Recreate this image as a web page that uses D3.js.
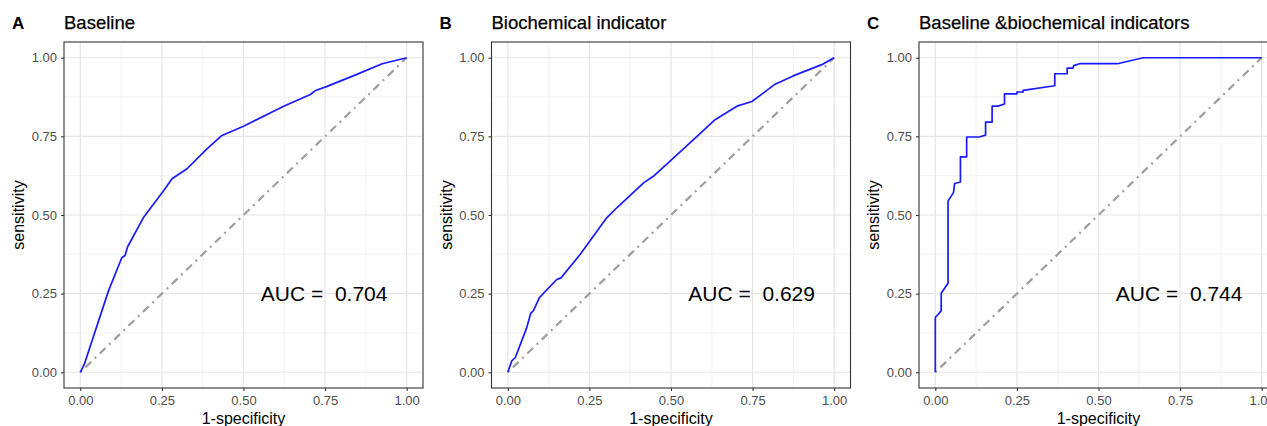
<!DOCTYPE html>
<html>
<head>
<meta charset="utf-8">
<script src="https://cdn.jsdelivr.net/npm/d3@7"></script>
<style>
  body { margin: 0; background: #fff; }
  text { font-family: "Liberation Sans", Arial, sans-serif; }
</style>
</head>
<body>
<div id="chart"></div>
<script>
const width = 1267;
const height = 426;

// panel letters, titles and AUC labels
const letters = ["A", "B", "C"];
const titles = ["Baseline", "Biochemical indicator", "Baseline &biochemical indicators"];
const aucLabels = ["0.704", "0.629", "0.744"];
const ticks = [0, 0.25, 0.5, 0.75, 1];
const minorTicks = [0.125, 0.375, 0.625, 0.875];

// ROC curves (1-specificity, sensitivity)
const fprA = [0, 0.012, 0.086, 0.127, 0.137, 0.145, 0.193, 0.258, 0.281, 0.327, 0.388, 0.434, 0.5, 0.623, 0.705, 0.721, 0.756, 0.838, 0.925, 0.997, 1];
const tprA = [0, 0.025, 0.258, 0.364, 0.371, 0.399, 0.491, 0.581, 0.615, 0.647, 0.71, 0.753, 0.782, 0.846, 0.883, 0.896, 0.909, 0.943, 0.981, 0.999, 1];

const fprB = [0, 0.012, 0.023, 0.058, 0.070, 0.078, 0.097, 0.109, 0.150, 0.163, 0.222, 0.303, 0.334, 0.416, 0.446, 0.497, 0.569, 0.635, 0.702, 0.748, 0.819, 0.876, 0.962, 0.998, 1];
const tprB = [0, 0.036, 0.047, 0.142, 0.187, 0.195, 0.237, 0.251, 0.295, 0.30, 0.375, 0.491, 0.523, 0.602, 0.623, 0.671, 0.740, 0.803, 0.846, 0.861, 0.916, 0.943, 0.978, 0.999, 1];

const fprC = [0, 0, 0.018, 0.018, 0.039, 0.039, 0.056, 0.059, 0.077, 0.077, 0.096, 0.096, 0.135, 0.154, 0.154, 0.174, 0.174, 0.192, 0.212, 0.212, 0.25, 0.25, 0.269, 0.269, 0.366, 0.366, 0.404, 0.404, 0.422, 0.424, 0.442, 0.558, 0.637, 1];
const tprC = [0, 0.174, 0.195, 0.251, 0.283, 0.544, 0.572, 0.600, 0.605, 0.685, 0.685, 0.748, 0.748, 0.754, 0.795, 0.795, 0.846, 0.846, 0.853, 0.885, 0.885, 0.891, 0.891, 0.896, 0.911, 0.949, 0.949, 0.967, 0.967, 0.975, 0.981, 0.981, 1, 1];

const curves = [[fprA, tprA], [fprB, tprB], [fprC, tprC]];

// panel geometry
const panelLeft = 64;
const panelStep = 427.5;
const panelW = 359;
const panelTop = 42;
const panelH = 346;

const svg = d3.select('#chart').append('svg')
    .attr('width', width)
    .attr('height', height);

curves.forEach(function (c, i) {
    const x = d3.scaleLinear().domain([-0.05, 1.05]).range([0, panelW]);
    const y = d3.scaleLinear().domain([-0.05, 1.05]).range([panelH, 0]);

    const g = svg.append('g')
        .attr('transform', "translate(" + (panelLeft + i * panelStep) + "," + panelTop + ")");

    // grid
    g.selectAll('.minorx').data(minorTicks).enter().append('line')
        .attr('x1', d => x(d)).attr('x2', d => x(d))
        .attr('y1', 0).attr('y2', panelH)
        .style('stroke', '#ebebeb').style('stroke-width', 0.6);
    g.selectAll('.minory').data(minorTicks).enter().append('line')
        .attr('y1', d => y(d)).attr('y2', d => y(d))
        .attr('x1', 0).attr('x2', panelW)
        .style('stroke', '#ebebeb').style('stroke-width', 0.6);
    g.selectAll('.majorx').data(ticks).enter().append('line')
        .attr('x1', d => x(d)).attr('x2', d => x(d))
        .attr('y1', 0).attr('y2', panelH)
        .style('stroke', '#e6e6e6').style('stroke-width', 1.2);
    g.selectAll('.majory').data(ticks).enter().append('line')
        .attr('y1', d => y(d)).attr('y2', d => y(d))
        .attr('x1', 0).attr('x2', panelW)
        .style('stroke', '#e6e6e6').style('stroke-width', 1.2);

    // reference diagonal
    g.append('line')
        .attr('x1', x(0)).attr('y1', y(0))
        .attr('x2', x(1)).attr('y2', y(1))
        .style('stroke', '#9e9e9e')
        .style('stroke-width', 2.2)
        .style('stroke-dasharray', '2,5,8,5');

    // ROC curve
    const pts = c[0].map((v, k) => [v, c[1][k]]);
    g.append('path')
        .datum(pts)
        .attr('d', d3.line().x(d => x(d[0])).y(d => y(d[1])))
        .style('fill', 'none')
        .style('stroke', '#1a1aff')
        .style('stroke-width', 1.7)
        .style('stroke-linejoin', 'round');

    // panel border
    g.append('rect')
        .attr('width', panelW).attr('height', panelH)
        .style('fill', 'none')
        .style('stroke', '#333')
        .style('stroke-width', 1.1);

    // axes
    const xAxis = g.append('g')
        .attr('transform', "translate(0," + panelH + ")")
        .call(d3.axisBottom(x).tickValues(ticks).tickFormat(d3.format('.2f')).tickSize(3).tickPadding(5));
    const yAxis = g.append('g')
        .call(d3.axisLeft(y).tickValues(ticks).tickFormat(d3.format('.2f')).tickSize(3).tickPadding(4));
    [xAxis, yAxis].forEach(function (a) {
        a.select('.domain').remove();
        a.selectAll('.tick line').style('stroke', '#333').style('stroke-width', 1.1);
        a.selectAll('.tick text')
            .style('font-size', '13px')
            .style('fill', '#4d4d4d')
            .style('font-family', '"Liberation Sans", Arial, sans-serif');
    });

    // axis titles
    g.append('text')
        .attr('x', (x(0) + x(1)) / 2)
        .attr('y', 381.5)
        .style('text-anchor', 'middle')
        .style('font-size', '16px')
        .text('1-specificity');
    g.append('text')
        .attr('transform', "translate(-40," + (y(0) + y(1)) / 2 + ") rotate(-90)")
        .style('text-anchor', 'middle')
        .style('font-size', '16px')
        .text('sensitivity');

    // AUC annotation
    g.append('text')
        .attr('x', x(0.553))
        .attr('y', y(0.226))
        .style('font-size', '21px')
        .style('white-space', 'pre')
        .text('AUC =  ' + aucLabels[i]);

    // letter and title
    g.append('text')
        .attr('x', -52)
        .attr('y', -13)
        .style('font-size', '17px')
        .style('font-weight', 'bold')
        .text(letters[i]);
    g.append('text')
        .attr('x', 0)
        .attr('y', -13)
        .style('font-size', '18.5px')
        .style('font-weight', 500)
        .style('stroke', '#000')
        .style('stroke-width', 0.25)
        .text(titles[i]);
});
</script>
</body>
</html>
